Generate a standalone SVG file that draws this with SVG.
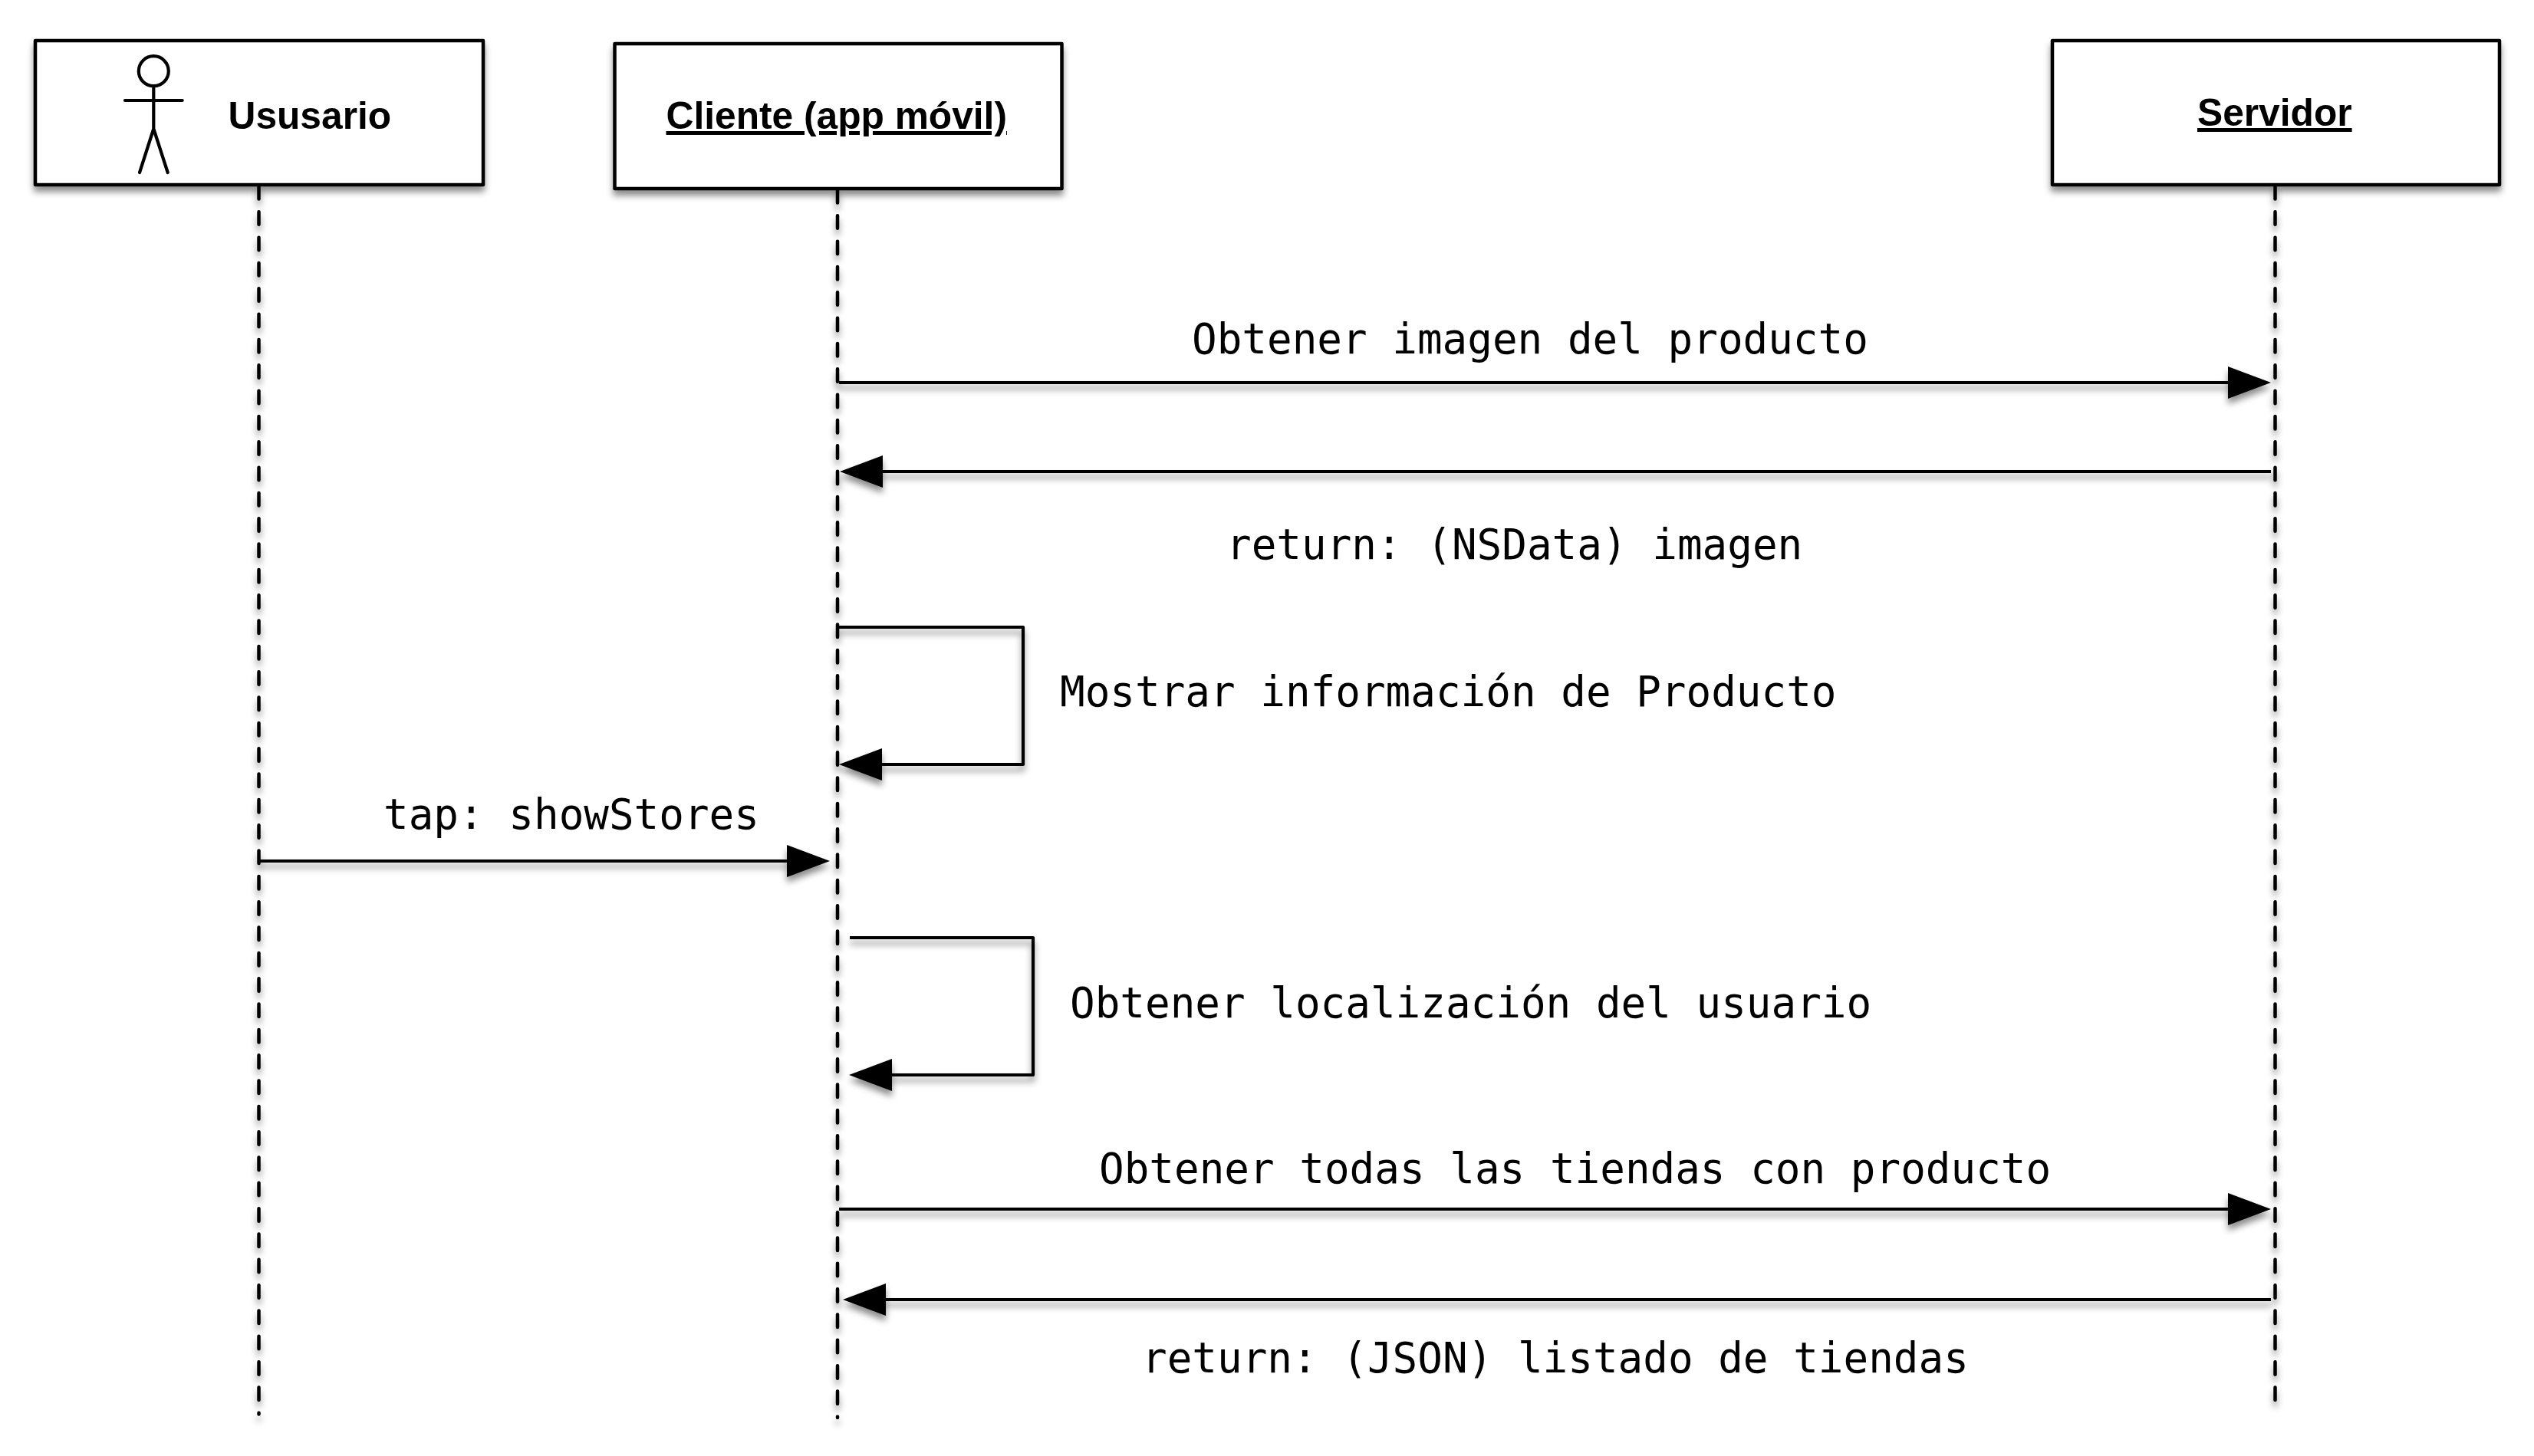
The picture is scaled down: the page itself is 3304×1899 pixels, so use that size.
<svg xmlns="http://www.w3.org/2000/svg" width="3304" height="1899" viewBox="0 0 3304 1899">
<style>
.box{fill:#fff;stroke:#000;stroke-width:4.5;stroke-linejoin:round}
.life{fill:none;stroke:#000;stroke-width:4.5;stroke-dasharray:16.5 16.83;stroke-linecap:round}
.msg{fill:none;stroke:#000;stroke-width:4.2;marker-end:url(#head);stroke-linejoin:round}
.stick{fill:none;stroke:#000;stroke-width:4.2;stroke-linecap:round}
.head{font-family:"Liberation Sans",Arial,sans-serif;font-weight:700;font-size:49.7px;fill:#000}
.u{text-decoration:underline}
.lbl{font-family:"DejaVu Sans Mono",monospace;font-size:54.25px;fill:#000}
</style>
<defs>
<filter id="sh" filterUnits="userSpaceOnUse" x="0" y="0" width="3304" height="1899">
<feDropShadow dx="0" dy="7" stdDeviation="4.5" flood-color="#000" flood-opacity="0.45"/>
</filter>
<marker id="head" markerUnits="userSpaceOnUse" markerWidth="56" markerHeight="42" viewBox="0 0 56 42" refX="0" refY="21" orient="auto" overflow="visible">
<polygon points="0,0 56,21 0,42" fill="#000"/>
</marker>
</defs>
<rect width="3304" height="1899" fill="#fff"/>
<g id="connectors" filter="url(#sh)">
<line class="life" x1="337.500" y1="243" x2="337.500" y2="1844.500"/>
<line class="life" x1="1092" y1="248" x2="1092" y2="1849"/>
<line class="life" x1="2966.500" y1="243" x2="2966.500" y2="1826"/>
<path class="msg" d="M1094 499H2905"/>
<path class="msg" d="M2961 615H1151"/>
<path class="msg" d="M1094 818H1334V997H1150"/>
<path class="msg" d="M338 1123H1026"/>
<path class="msg" d="M1108 1223H1347V1402H1163"/>
<path class="msg" d="M1094 1577H2905"/>
<path class="msg" d="M2961 1695H1155"/>
</g>
<g id="node-usuario">
<rect class="box" x="46" y="53" width="584" height="188" filter="url(#sh)"/>
<circle class="stick" cx="200.300" cy="92.700" r="19.500"/>
<path class="stick" d="M200.300 112.500V168M163 131H237.700M200.300 168L182 225M200.300 168L218.700 225"/>
<text class="head" x="297.500" y="168">Ususario</text>
</g>
<g id="node-cliente">
<rect class="box" x="801.500" y="57" width="583" height="189" filter="url(#sh)"/>
<text class="head u" x="868.500" y="168">Cliente (app móvil)</text>
</g>
<g id="node-servidor">
<rect class="box" x="2676" y="53" width="583" height="188" filter="url(#sh)"/>
<text class="head u" x="2865" y="164">Servidor</text>
</g>
<g id="labels">
<text class="lbl" x="1554" y="461">Obtener imagen del producto</text>
<text class="lbl" x="1599" y="729">return: (NSData) imagen</text>
<text class="lbl" x="1382" y="921">Mostrar información de Producto</text>
<text class="lbl" x="500" y="1081">tap: showStores</text>
<text class="lbl" x="1395" y="1327">Obtener localización del usuario</text>
<text class="lbl" x="1433" y="1543">Obtener todas las tiendas con producto</text>
<text class="lbl" x="1489" y="1790">return: (JSON) listado de tiendas</text>
</g>
</svg>
